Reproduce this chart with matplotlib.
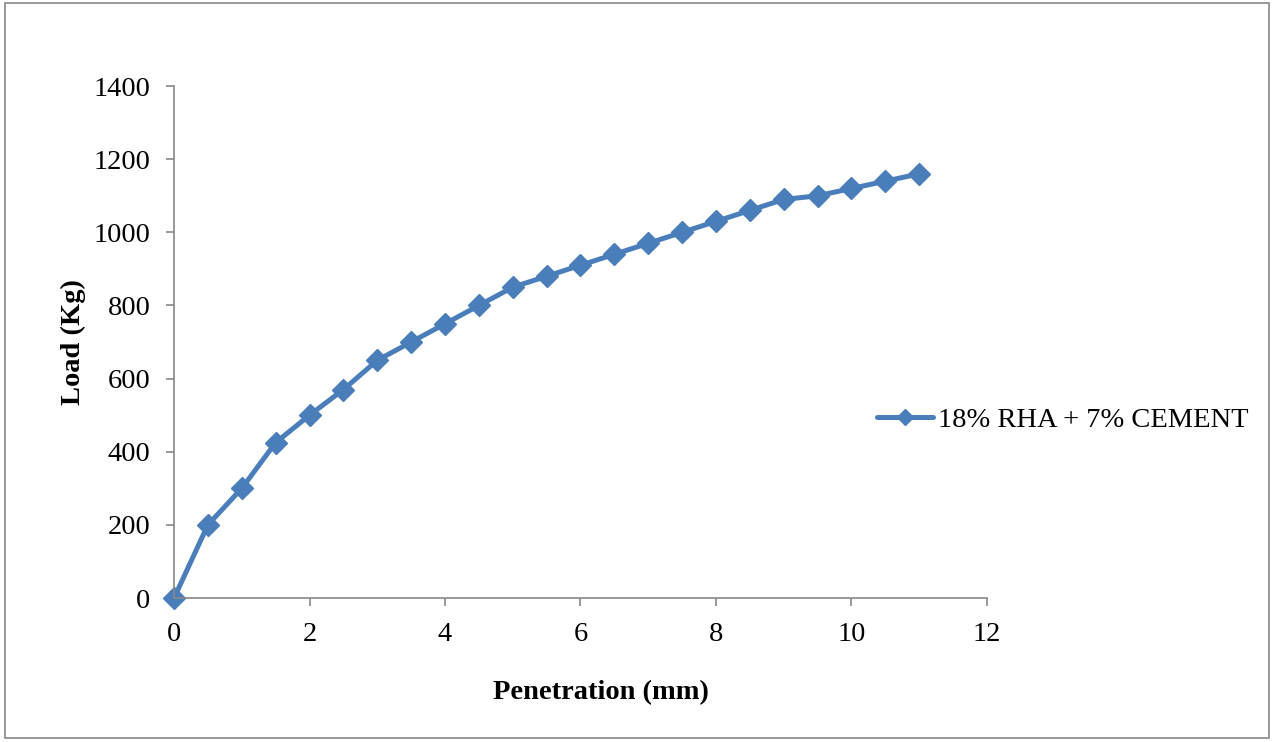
import matplotlib
matplotlib.use("Agg")
import matplotlib.pyplot as plt
from matplotlib.patches import Rectangle
from matplotlib.lines import Line2D

penetration = [0, 0.5, 1, 1.5, 2, 2.5, 3, 3.5, 4, 4.5, 5, 5.5, 6, 6.5, 7, 7.5, 8, 8.5, 9, 9.5, 10, 10.5, 11]
load = [0, 200, 300, 425, 500, 570, 650, 700, 750, 800, 850, 880, 910, 940, 970, 1000, 1030, 1060, 1090, 1100, 1120, 1140, 1160]
series_name = "18% RHA + 7% CEMENT"
x_ticks = [0, 2, 4, 6, 8, 10, 12]
y_ticks = [0, 200, 400, 600, 800, 1000, 1200, 1400]

plt.rcParams['font.family'] = ['Liberation Serif', 'DejaVu Serif']

fig = plt.figure(figsize=(12.73, 7.42), dpi=100)
ax = fig.add_axes([0.1367, 0.194, 0.6386, 0.690])
color = '#4A7EBB'
ax.plot(penetration, load, color=color, lw=3.6, marker='D', ms=11, mec=color, mfc=color,
        solid_joinstyle='round', clip_on=False)
ax.set_xlim(0, 12)
ax.set_ylim(0, 1400)
ax.set_xticks(x_ticks)
ax.set_yticks(y_ticks)
ax.tick_params(labelsize=20.5, colors='black', length=6, width=1.2, direction='out', color='#888888')
ax.tick_params(axis='y', pad=11)
ax.tick_params(axis='x', pad=11)
for s in ['top', 'right']:
    ax.spines[s].set_visible(False)
for s in ['left', 'bottom']:
    ax.spines[s].set_color('#888888')
    ax.spines[s].set_linewidth(1.2)
ax.set_xlabel('Penetration (mm)', fontsize=20.5, fontweight='bold')
ax.set_ylabel('Load (Kg)', fontsize=20.5, fontweight='bold')
ax.xaxis.set_label_coords(0.525, -0.161)
ax.yaxis.set_label_coords(-0.108, 0.5)
handle = Line2D([], [], color=color, lw=3.6, marker='D', ms=8, mec=color, mfc=color,
                solid_capstyle='round')
ax.legend([handle], [series_name], loc='center left', bbox_to_anchor=(0.865, 0.348),
          frameon=False, fontsize=20.5, handlelength=1.95, handletextpad=0.2,
          borderaxespad=0, borderpad=0)
ax.patch.set_alpha(0)
fig.patches.append(Rectangle((0.004, 0.006), 0.993, 0.99, transform=fig.transFigure,
                             fill=False, edgecolor='#888888', lw=1.2))
fig.savefig('out.png', dpi=100)
